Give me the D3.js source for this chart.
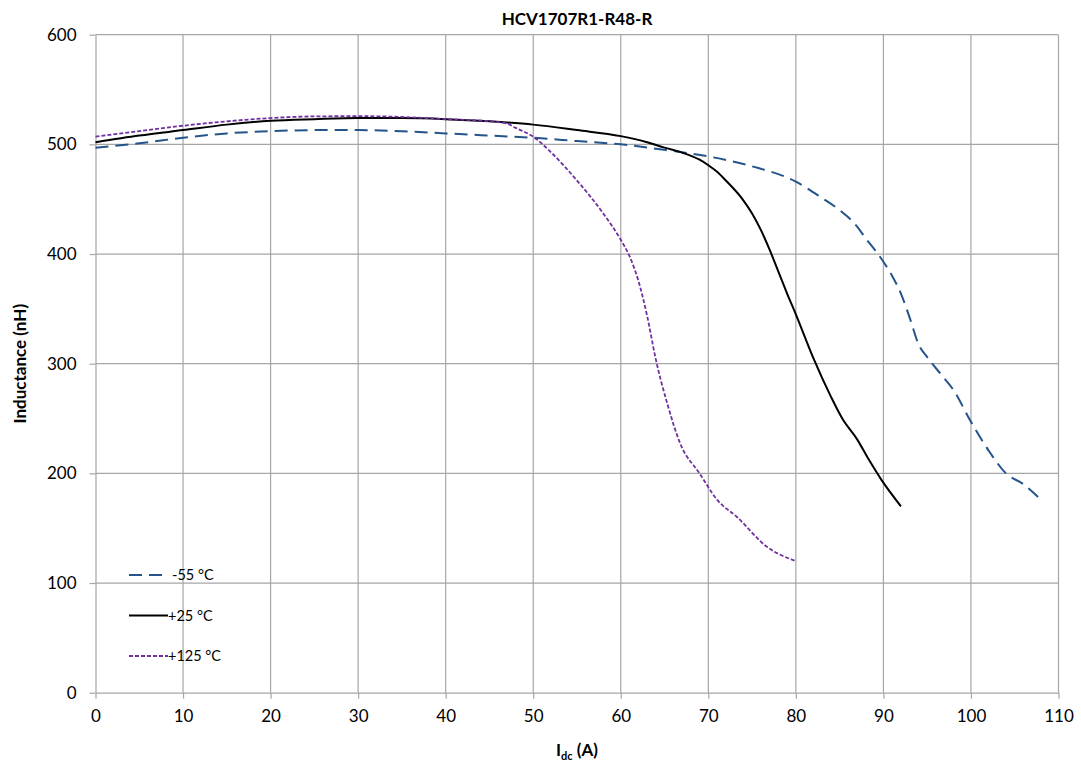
<!DOCTYPE html>
<html>
<head>
<meta charset="utf-8">
<script src="https://cdn.jsdelivr.net/npm/d3@7"></script>
<style>
  body { margin: 0; background: #fff; }
  svg { font-family: Lato, 'Noto Sans', sans-serif; }
</style>
</head>
<body>
<svg id="chart" width="1081" height="772"></svg>
<script>
const seriesNames = ['-55 °C', '+25 °C', '+125 °C']

const cold = [
  [0, 497], [5, 501], [10, 506], [15, 510], [20, 512], [25, 513], [30, 513], [35, 512],
  [40, 510], [45, 508], [50, 506], [55, 503], [60, 500], [65, 495], [70, 489], [75, 480],
  [80, 466], [83, 451], [85, 440], [87, 425], [88, 414], [89, 404], [90, 393], [91, 380],
  [92, 364], [93, 342], [94, 318], [95, 306], [96.5, 291], [98, 276], [100, 247], [102, 221],
  [104, 200], [106, 190], [108, 176]
]
const room = [
  [0, 502], [5, 508], [10, 513], [15, 518], [20, 521.5], [25, 523], [30, 524], [35, 524],
  [40, 523], [45, 521], [50, 518], [55, 513], [60, 507.5], [63, 502], [65, 497], [67, 492.5],
  [69, 486], [70, 481], [71, 475], [72, 467], [74, 449], [75, 437], [76, 422], [77, 404],
  [78, 384], [79, 364], [80, 345], [82, 305], [84, 270], [85.3, 250], [87, 231], [88.3, 213],
  [89.7, 195], [92, 170]
]
const hot = [
  [0, 507], [5, 512], [10, 517], [15, 521], [20, 524], [25, 525.5], [30, 525.7], [35, 525],
  [40, 523], [45, 521], [47, 519], [48, 515], [50, 507], [52, 493], [55, 467], [58, 437],
  [60, 413], [61, 398], [62, 376], [63, 344], [64, 304], [65.3, 264], [66.8, 227], [69, 200],
  [71, 176], [73.3, 160], [76.7, 133], [80, 120]
]

const xTicks = d3.range(0, 111, 10)
const yTicks = d3.range(0, 601, 100)

const margin = { left: 95.5, right: 1081 - 1058.5, top: 34.7, bottom: 772 - 692.7 }
const width = 1081, height = 772

const svg = d3.select('#chart')

const x = d3.scaleLinear().domain([0, 110]).range([margin.left, width - margin.right])
const y = d3.scaleLinear().domain([0, 600]).range([height - margin.bottom, margin.top])

const gridColor = '#a6a6a6'

// gridlines
svg.append('g')
  .selectAll('line')
  .data(xTicks.slice(1))
  .join('line')
  .attr('x1', d => x(d)).attr('x2', d => x(d))
  .attr('y1', y(600)).attr('y2', y(0))
  .attr('stroke', gridColor).attr('stroke-width', 1.2)

svg.append('g')
  .selectAll('line')
  .data(yTicks.slice(1))
  .join('line')
  .attr('x1', x(0)).attr('x2', x(110))
  .attr('y1', d => y(d)).attr('y2', d => y(d))
  .attr('stroke', gridColor).attr('stroke-width', 1.2)

// axes
const xAxis = svg.append('g')
  .attr('transform', 'translate(0,' + y(0) + ')')
  .call(d3.axisBottom(x).tickValues(xTicks).tickSize(6).tickPadding(11).tickSizeOuter(0))
const yAxis = svg.append('g')
  .attr('transform', 'translate(' + x(0) + ',0)')
  .call(d3.axisLeft(y).tickValues(yTicks).tickSize(6).tickPadding(13).tickSizeOuter(0))

;[xAxis, yAxis].forEach(function (g) {
  g.attr('font-family', "Lato, 'Noto Sans', sans-serif").attr('font-size', 17)
  g.select('.domain').attr('stroke', gridColor).attr('stroke-width', 1.2)
  g.selectAll('.tick line').attr('stroke', gridColor).attr('stroke-width', 1.2)
  g.selectAll('.tick text').attr('fill', '#000')
})

// series
const line = d3.line()
  .x(d => x(d[0]))
  .y(d => y(d[1]))
  .curve(d3.curveMonotoneX)

const styles = [
  { data: cold, color: '#24548a', dash: '13,7', width: 2, legendLen: 34, textX: 43 },
  { data: room, color: '#000000', dash: null, width: 2, legendLen: 39, textX: 39 },
  { data: hot, color: '#7030a0', dash: '4,2', width: 1.8, legendLen: 39, textX: 39 }
]

styles.forEach(function (s) {
  svg.append('path')
    .datum(s.data)
    .attr('d', line)
    .attr('fill', 'none')
    .attr('stroke', s.color)
    .attr('stroke-width', s.width)
    .attr('stroke-dasharray', s.dash)
})

// legend
const legend = svg.append('g').attr('transform', 'translate(129,575)')
styles.forEach(function (s, i) {
  const row = legend.append('g').attr('transform', 'translate(0,' + (i * 40.5) + ')')
  row.append('line')
    .attr('x1', 0).attr('x2', s.legendLen)
    .attr('stroke', s.color)
    .attr('stroke-width', s.width)
    .attr('stroke-dasharray', s.dash)
  row.append('text')
    .attr('x', s.textX)
    .attr('y', 5)
    .attr('font-size', 14.5)
    .text(seriesNames[i])
})

// titles
svg.append('text')
  .attr('x', (x(0) + x(110)) / 2)
  .attr('y', 25)
  .attr('text-anchor', 'middle')
  .attr('font-size', 17)
  .attr('font-weight', 'bold')
  .text('HCV1707R1-R48-R')

svg.append('text')
  .attr('transform', 'translate(26,' + ((y(0) + y(600)) / 2) + ')rotate(-90)')
  .attr('text-anchor', 'middle')
  .attr('font-size', 17)
  .attr('font-weight', 'bold')
  .text('Inductance (nH)')

const xTitle = svg.append('text')
  .attr('x', (x(0) + x(110)) / 2)
  .attr('y', 756)
  .attr('text-anchor', 'middle')
  .attr('font-size', 17)
  .attr('font-weight', 'bold')
xTitle.append('tspan').text('I')
xTitle.append('tspan').attr('font-size', 11).attr('dy', 4).text('dc')
xTitle.append('tspan').attr('dy', -4).text(' (A)')
</script>
</body>
</html>
